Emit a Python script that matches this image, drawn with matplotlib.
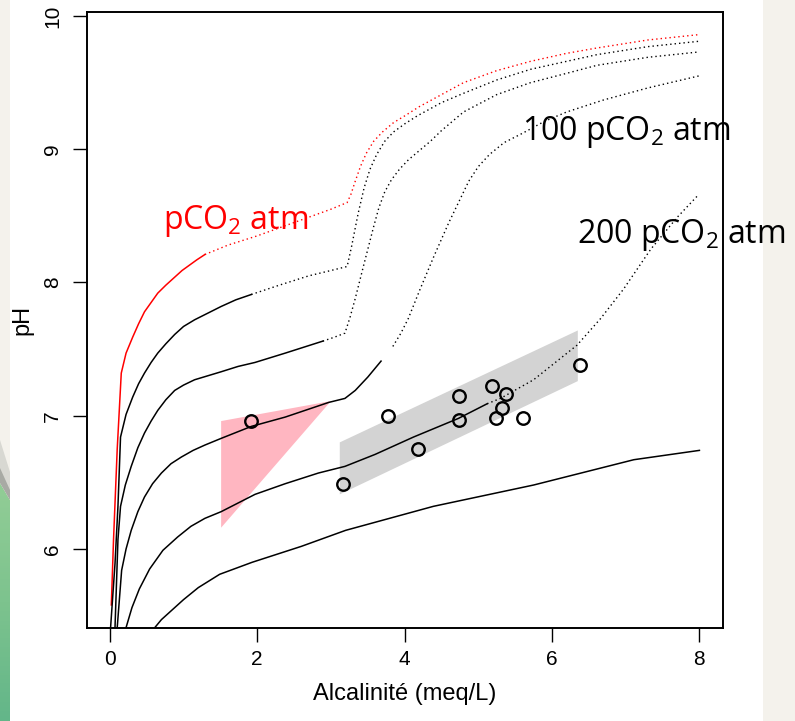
import matplotlib
matplotlib.use("Agg")
import matplotlib.pyplot as plt
import numpy as np
from matplotlib.patches import Rectangle, Polygon
from matplotlib.colors import LinearSegmentedColormap

plt.rcParams['mathtext.fontset'] = 'custom'
plt.rcParams['mathtext.rm'] = 'Open Sans'
plt.rcParams['mathtext.default'] = 'rm'

# pH vs alkalinity curves, one per pCO2 level (solid = measured range, dotted = extrapolated)
red_solid_x = [0.02, 0.05, 0.10, 0.155, 0.22, 0.31, 0.39, 0.47, 0.56, 0.65, 0.76, 0.88, 0.98, 1.08, 1.18, 1.29]
red_solid_y = [5.58, 6.07, 6.75, 7.32, 7.47, 7.59, 7.69, 7.78, 7.85, 7.92, 7.98, 8.04, 8.09, 8.13, 8.17, 8.21]
red_dot_x = [1.29, 1.6, 2.0, 2.5, 3.0, 3.22, 3.27, 3.33, 3.40, 3.48, 3.58, 3.70, 3.85, 4.0, 4.2, 4.5, 4.80,
             5.25, 5.71, 6.2, 6.61, 7.3, 7.99]
red_dot_y = [8.21, 8.28, 8.35, 8.45, 8.55, 8.60, 8.66, 8.76, 8.87, 8.97, 9.06, 9.13, 9.20, 9.25, 9.32, 9.41, 9.50,
             9.59, 9.66, 9.72, 9.76, 9.82, 9.86]

c2_solid_x = [0.01, 0.07, 0.11, 0.145, 0.22, 0.31, 0.39, 0.47, 0.56, 0.65, 0.76, 0.88, 1.0, 1.15, 1.33, 1.51, 1.71, 1.92]
c2_solid_y = [5.41, 5.89, 6.32, 6.84, 7.01, 7.14, 7.24, 7.32, 7.40, 7.47, 7.54, 7.61, 7.67, 7.72, 7.77, 7.82, 7.87, 7.91]
c2_dot_x = [1.92, 2.3, 2.7, 3.0, 3.22, 3.28, 3.37, 3.45, 3.53, 3.62, 3.73, 3.85, 4.0, 4.17, 4.5, 4.80,
            5.25, 5.71, 6.2, 6.61, 7.3, 7.99]
c2_dot_y = [7.91, 7.98, 8.05, 8.09, 8.12, 8.27, 8.52, 8.71, 8.85, 8.96, 9.06, 9.13, 9.19, 9.25, 9.35, 9.42,
            9.52, 9.60, 9.66, 9.71, 9.77, 9.81]

c3_solid_x = [0.07, 0.11, 0.145, 0.21, 0.29, 0.38, 0.47, 0.56, 0.65, 0.76, 0.88, 1.0, 1.15, 1.33, 1.51, 1.74, 1.97,
              2.38, 2.89]
c3_solid_y = [5.41, 6.07, 6.32, 6.48, 6.62, 6.76, 6.87, 6.96, 7.04, 7.12, 7.19, 7.23, 7.27, 7.30, 7.33, 7.37, 7.40,
              7.47, 7.56]
c3_dot_x = [2.89, 3.05, 3.19, 3.26, 3.33, 3.44, 3.58, 3.65, 3.73, 3.82, 3.93, 4.05, 4.2, 4.35, 4.5, 4.80, 5.25,
            5.71, 6.2, 6.61, 7.3, 7.99]
c3_dot_y = [7.56, 7.59, 7.62, 7.74, 7.88, 8.12, 8.42, 8.56, 8.68, 8.77, 8.85, 8.92, 8.99, 9.06, 9.14, 9.28, 9.41,
            9.50, 9.57, 9.63, 9.69, 9.73]

c4_solid_x = [0.10, 0.16, 0.22, 0.29, 0.38, 0.47, 0.58, 0.70, 0.83, 0.97, 1.13, 1.29, 1.51, 1.92, 2.38, 2.97,
              3.19, 3.33, 3.50, 3.68]
c4_solid_y = [5.41, 5.84, 6.00, 6.14, 6.28, 6.39, 6.49, 6.57, 6.64, 6.69, 6.74, 6.78, 6.83, 6.92, 6.99, 7.10,
              7.13, 7.19, 7.29, 7.41]
c4_dot_x = [3.84, 3.95, 4.05, 4.21, 4.40, 4.60, 4.87, 5.0, 5.15, 5.35, 5.60, 5.9, 6.20, 6.70, 7.30, 7.99]
c4_dot_y = [7.52, 7.62, 7.73, 7.95, 8.20, 8.45, 8.76, 8.87, 8.96, 9.05, 9.12, 9.21, 9.28, 9.37, 9.46, 9.55]

c5_solid_x = [0.22, 0.30, 0.40, 0.54, 0.72, 0.92, 1.1, 1.29, 1.51, 1.97, 2.38, 2.83, 3.19, 3.6, 4.12, 4.73, 5.12]
c5_solid_y = [5.41, 5.56, 5.70, 5.85, 5.99, 6.09, 6.17, 6.23, 6.28, 6.41, 6.49, 6.57, 6.62, 6.71, 6.84, 6.98, 7.09]
c5_dot_x = [5.12, 5.30, 5.75, 6.0, 6.34, 6.66, 6.97, 7.34, 7.70, 7.99]
c5_dot_y = [7.09, 7.13, 7.27, 7.38, 7.53, 7.73, 7.95, 8.25, 8.49, 8.66]

c6_x = [0.61, 0.7, 0.8, 0.9, 1.0, 1.2, 1.49, 1.93, 2.6, 3.2, 4.39, 5.75, 7.11, 8.0]
c6_y = [5.41, 5.47, 5.52, 5.57, 5.62, 5.71, 5.81, 5.90, 6.02, 6.14, 6.32, 6.48, 6.67, 6.74]

# shaded zones
pink_x = [1.51, 3.00, 1.51]
pink_y = [6.96, 7.11, 6.16]
grey_x = [3.12, 6.35, 6.35, 3.12]
grey_y = [6.80, 7.64, 7.26, 6.41]

# samples
alk = [1.92, 3.16, 3.77, 4.18, 4.74, 4.74, 5.19, 5.24, 5.32, 5.38, 5.61, 6.38]
ph = [6.96, 6.49, 7.00, 6.75, 7.15, 6.97, 7.22, 6.98, 7.06, 7.16, 6.98, 7.38]

W, H = 795, 721
fig = plt.figure(figsize=(W / 100, H / 100), dpi=100)
fig.patch.set_facecolor('#f4f2ec')
fig.add_artist(Rectangle((10 / W, 0), 753 / W, 1, transform=fig.transFigure,
                         facecolor='white', edgecolor='none', zorder=0))

# green corner on the left edge
bg = fig.add_axes([0, 0, 10 / W, 1])
bg.set_xlim(0, 10)
bg.set_ylim(H, 0)
bg.axis('off')
bg.fill([0, 10, 10, 0], [440, 472, 500, 483], color='#d8d8d2', lw=0)
bg.fill([0, 10, 10, 0], [468, 490, 500, 483], color='#a8aaa4', lw=0)
green = LinearSegmentedColormap.from_list('g', ['#92cd96', '#7dc38e', '#63b689'])
im = bg.imshow(np.linspace(0, 1, 200)[:, None], cmap=green, extent=[0, 10, H, 483], aspect='auto')
im.set_clip_path(Polygon([(0, 483), (10, 500), (10, H), (0, H)], transform=bg.transData))
bg.set_xlim(0, 10)
bg.set_ylim(H, 0)

ax = fig.add_axes([87 / W, 1 - 628 / H, 636 / W, 616 / H])
ax.set_facecolor('none')

ax.fill(pink_x, pink_y, color='#ffb6c1', lw=0, zorder=1)
ax.fill(grey_x, grey_y, color='#d3d3d3', lw=0, zorder=1)

dot = (0, (1, 2.2))
ax.plot(red_solid_x, red_solid_y, color='red', lw=1.1)
ax.plot(red_dot_x, red_dot_y, color='red', lw=1.0, ls=dot)
for sx, sy, dx, dy in [(c2_solid_x, c2_solid_y, c2_dot_x, c2_dot_y),
                       (c3_solid_x, c3_solid_y, c3_dot_x, c3_dot_y),
                       (c4_solid_x, c4_solid_y, c4_dot_x, c4_dot_y),
                       (c5_solid_x, c5_solid_y, c5_dot_x, c5_dot_y)]:
    ax.plot(sx, sy, color='black', lw=1.1)
    ax.plot(dx, dy, color='black', lw=1.0, ls=dot)
ax.plot(c6_x, c6_y, color='black', lw=1.1)

ax.plot(alk, ph, 'o', ms=9, mfc='none', mec='black', mew=1.7, zorder=4)

tfont = dict(family='Open Sans', size=23, va='baseline', ha='left')
ax.text(0.72, 8.40, r'pCO$_2$ atm', color='red', **tfont)
ax.text(5.59, 9.07, r'100 pCO$_2$ atm', color='black', **tfont)
ax.text(6.34, 8.30, r'200 pCO$_2$ atm', color='black', **tfont)

ax.set_xlim(-0.31, 8.32)
ax.set_ylim(5.407, 10.03)
ax.set_xticks([0, 2, 4, 6, 8])
ax.set_yticks([6, 7, 8, 9, 10])
for lab in ax.get_xticklabels() + ax.get_yticklabels():
    lab.set_family('Liberation Sans')
    lab.set_fontsize(15)
for lab in ax.get_yticklabels():
    lab.set_rotation(90)
    lab.set_va('center')
ax.tick_params(length=10, width=1, direction='out', pad=6)
ax.tick_params(axis='y', pad=8)
for s in ax.spines.values():
    s.set_linewidth(1.4)

ax.set_xlabel('Alcalinité (meq/L)', family='Liberation Sans', fontsize=17, labelpad=10)
ax.set_ylabel('pH', family='Liberation Sans', fontsize=17, labelpad=7)

fig.savefig('out.png', dpi=100, facecolor=fig.get_facecolor())
